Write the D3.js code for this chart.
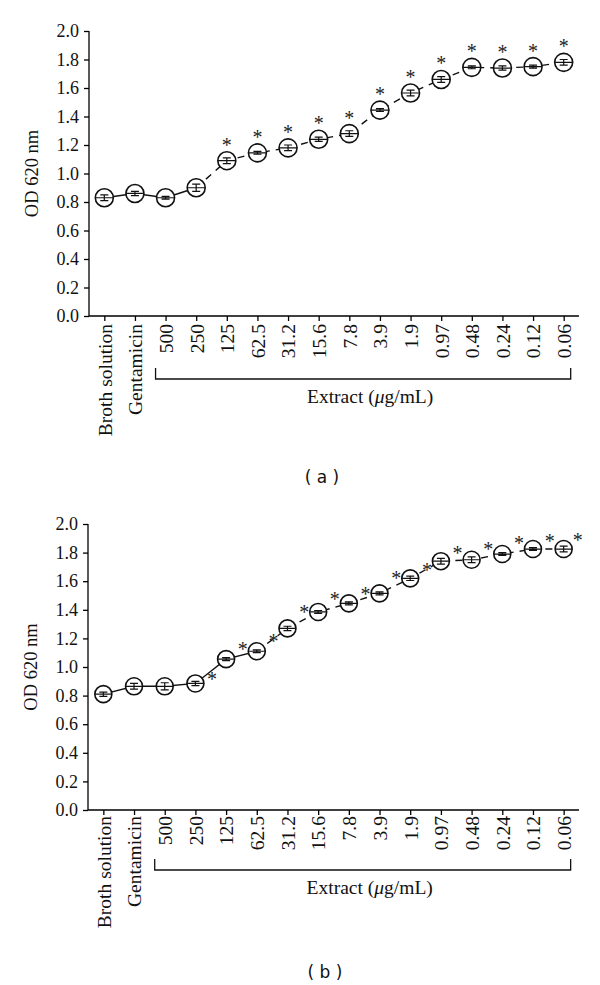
<!DOCTYPE html>
<html>
<head>
<meta charset="utf-8">
<script src="https://cdn.jsdelivr.net/npm/d3@7"></script>
<style>
  html, body { margin: 0; padding: 0; background: #fff; }
  svg { display: block; }
</style>
</head>
<body>
<svg id="chart" width="600" height="985"></svg>
<script>
// ---------------- DATA ----------------
const categories = ["Broth solution", "Gentamicin", "500", "250", "125", "62.5", "31.2", "15.6",
  "7.8", "3.9", "1.9", "0.97", "0.48", "0.24", "0.12", "0.06"];
const extractCats = categories.slice(2);
const yTicks = [0.0, 0.2, 0.4, 0.6, 0.8, 1.0, 1.2, 1.4, 1.6, 1.8, 2.0];

// Panel (a)
const valuesA = [0.83, 0.86, 0.83, 0.90, 1.09, 1.145, 1.18, 1.24, 1.28, 1.445, 1.565, 1.66, 1.745, 1.74, 1.75, 1.78];
const errorsA = [0.02, 0.015, 0.01, 0.025, 0.02, 0.01, 0.02, 0.015, 0.02, 0.01, 0.02, 0.02, 0.01, 0.015, 0.01, 0.02];
const sigA    = [0, 0, 0, 0, 1, 1, 1, 1, 1, 1, 1, 1, 1, 1, 1, 1];
const solidUntilA = 3;   // index where the solid line ends and the dashed one starts

// Panel (b)
const valuesB = [0.81, 0.865, 0.865, 0.885, 1.055, 1.11, 1.27, 1.385, 1.445, 1.515, 1.62, 1.74, 1.75, 1.79, 1.825, 1.825];
const errorsB = [0.015, 0.02, 0.025, 0.015, 0.01, 0.01, 0.015, 0.01, 0.01, 0.01, 0.015, 0.02, 0.02, 0.01, 0.01, 0.02];
const solidUntilB = 5;
// asterisks of panel (b): [category, value of star centre, side (-1 left of point, 1 right)]
const starsB = [
  ["125", 0.93, -1], ["62.5", 1.14, -1], ["31.2", 1.195, -1], ["15.6", 1.40, -1],
  ["7.8", 1.49, -1], ["3.9", 1.525, -1], ["1.9", 1.635, -1], ["0.97", 1.69, -1],
  ["0.48", 1.81, -1], ["0.24", 1.84, -1], ["0.12", 1.88, -1], ["0.06", 1.895, -1],
  ["0.06", 1.90, 1]
];

// ---------------- DRAW ----------------
const svg = d3.select("#chart");
const serif = "Liberation Serif, Times New Roman, serif";

function panel(cfg) {
  const g = svg.append("g");
  const x = d3.scalePoint().domain(categories).range([cfg.left, cfg.right]).padding(0.5);
  const y = d3.scaleLinear().domain([0, 2]).range([cfg.bottom, cfg.top]);

  // y axis
  const yAxis = g.append("g").attr("transform", `translate(${cfg.left},0)`)
    .call(d3.axisLeft(y).tickValues(yTicks).tickFormat(d3.format(".1f")).tickSize(5).tickPadding(5));
  yAxis.attr("font-family", serif).attr("font-size", 18);
  yAxis.select(".domain").attr("d", `M0,${cfg.top}V${cfg.bottom}`).attr("stroke-width", 1.3);
  yAxis.selectAll(".tick line").attr("stroke-width", 1.3);
  yAxis.selectAll("text").style("font-family", serif).style("font-size", "18px").attr("fill", "#111");

  // x axis
  const xAxis = g.append("g").attr("transform", `translate(0,${cfg.bottom})`)
    .call(d3.axisBottom(x).tickSize(5).tickPadding(0));
  xAxis.attr("font-family", serif);
  xAxis.select(".domain").attr("d", `M${cfg.left},0H${cfg.right}`).attr("stroke-width", 1.3);
  xAxis.selectAll(".tick line").attr("stroke-width", 1.3);
  xAxis.selectAll("text")
    .style("font-family", serif).style("font-size", "19.5px").attr("fill", "#111")
    .attr("transform", "rotate(-90)")
    .attr("text-anchor", "end")
    .attr("x", -cfg.labelGap).attr("y", 0).attr("dy", "0.35em");

  // y title
  g.append("text")
    .attr("transform", `translate(${cfg.titleX},${(cfg.top + cfg.bottom) / 2}) rotate(-90)`)
    .attr("text-anchor", "middle").attr("dy", "0.35em")
    .style("font-family", serif).style("font-size", "18.5px").attr("fill", "#111")
    .text("OD 620 nm");

  // bracket for extract concentrations
  const bx0 = x(extractCats[0]) - 10, bx1 = x(extractCats[extractCats.length - 1]) + 7;
  g.append("path")
    .attr("d", `M${bx0},${cfg.bracketY - 11}V${cfg.bracketY}H${bx1}V${cfg.bracketY - 11}`)
    .attr("fill", "none").attr("stroke", "#111").attr("stroke-width", 1.3);
  g.append("text")
    .attr("x", (bx0 + bx1) / 2 + 7).attr("y", cfg.bracketY + 24)
    .attr("text-anchor", "middle")
    .style("font-family", serif).style("font-size", "19.5px").attr("fill", "#111")
    .html("Extract (<tspan font-style='italic'>μ</tspan>g/mL)");

  // lines
  const pts = categories.map((c, i) => [x(c), y(cfg.values[i])]);
  const line = d3.line();
  g.append("path").attr("d", line(pts.slice(0, cfg.solidUntil + 1)))
    .attr("fill", "none").attr("stroke", "#111").attr("stroke-width", 1.4);
  g.append("path").attr("d", line(pts.slice(cfg.solidUntil)))
    .attr("fill", "none").attr("stroke", "#111").attr("stroke-width", 1.4)
    .attr("stroke-dasharray", "7,6");

  // markers
  const m = g.selectAll(".mk").data(categories.map((c, i) => ({ c, v: cfg.values[i], e: cfg.errors[i] })))
    .enter().append("g").attr("class", "mk");
  m.append("circle").attr("cx", d => x(d.c)).attr("cy", d => y(d.v)).attr("r", cfg.r)
    .attr("fill", "#fff").attr("stroke", "#111").attr("stroke-width", 1.6);
  const cap = 4;
  m.append("path")
    .attr("d", d => {
      const cx = x(d.c), yt = y(d.v + d.e), yb = y(d.v - d.e), ym = y(d.v);
      return `M${cx - cfg.r},${ym}H${cx + cfg.r}M${cx - cap},${yt}H${cx + cap}M${cx - cap},${yb}H${cx + cap}M${cx},${yt}V${yb}`;
    })
    .attr("fill", "none").attr("stroke", "#111").attr("stroke-width", 1.2);

  return { g, x, y };
}

// Panel (a)
const A = panel({ left: 89, right: 579, top: 31, bottom: 316, values: valuesA, errors: errorsA,
  solidUntil: solidUntilA, r: 9, labelGap: 8, titleX: 32, bracketY: 379 });
A.g.selectAll(".star").data(categories.filter((c, i) => sigA[i]))
  .enter().append("text").attr("class", "star")
  .attr("x", c => A.x(c)).attr("y", c => A.y(valuesA[categories.indexOf(c)]) - 9)
  .attr("text-anchor", "middle")
  .style("font-family", serif).style("font-size", "20px").attr("fill", "#222").text("*");
svg.append("text").attr("x", 322).attr("y", 477).attr("dy", "0.35em").attr("text-anchor", "middle")
  .style("font-family", "DejaVu Sans, sans-serif").style("font-size", "17px").attr("fill", "#111")
  .attr("xml:space", "preserve").text("( a )");

// Panel (b)
const B = panel({ left: 88, right: 579, top: 524, bottom: 810, values: valuesB, errors: errorsB,
  solidUntil: solidUntilB, r: 8.5, labelGap: 6, titleX: 31, bracketY: 870 });
B.g.selectAll(".star").data(starsB)
  .enter().append("text").attr("class", "star")
  .attr("x", d => B.x(d[0]) + d[2] * 14).attr("y", d => B.y(d[1]) + 9)
  .attr("text-anchor", "middle")
  .style("font-family", serif).style("font-size", "20px").attr("fill", "#222").text("*");
svg.append("text").attr("x", 325).attr("y", 972).attr("dy", "0.35em").attr("text-anchor", "middle")
  .style("font-family", "DejaVu Sans, sans-serif").style("font-size", "17px").attr("fill", "#111")
  .attr("xml:space", "preserve").text("( b )");
</script>
</body>
</html>
